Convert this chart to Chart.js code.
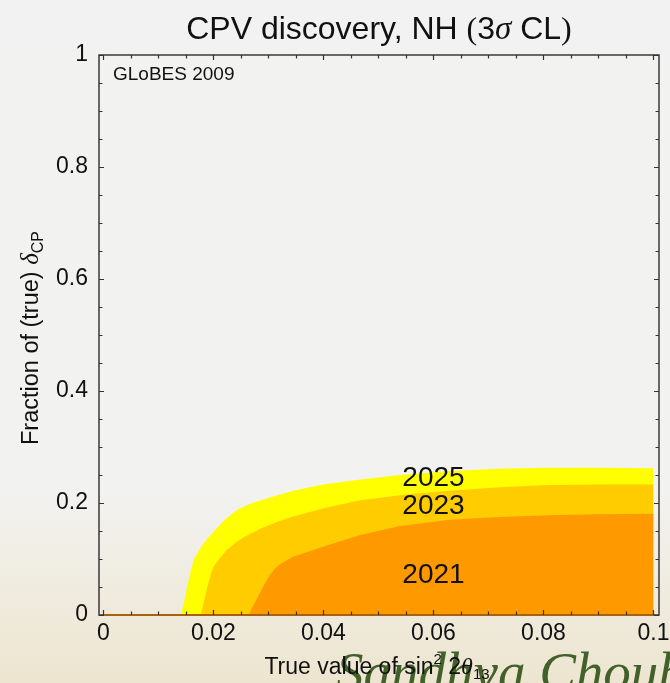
<!DOCTYPE html>
<html>
<head>
<meta charset="utf-8">
<title>CPV discovery, NH (3σ CL)</title>
<script src="https://cdn.jsdelivr.net/npm/chart.js@4.4.1/dist/chart.umd.min.js"></script>
<style>
  html, body { margin: 0; padding: 0; background: #f2f2f2; }
  canvas { display: block; }
</style>
</head>
<body>
<canvas id="cpv" width="670" height="683"></canvas>
<script>
// Fraction of true delta_CP for which CP violation is discovered at 3 sigma,
// as a function of the true sin^2 2theta13 (normal hierarchy), by year.
const years = ['2025', '2023', '2021'];
const band2025 = [[0.0141,0],[0.0147,0.025],[0.0152,0.05],[0.0158,0.075],[0.0164,0.098],[0.0173,0.114],
  [0.0182,0.128],[0.0194,0.142],[0.0208,0.157],[0.0224,0.173],[0.0245,0.189],[0.0270,0.200],[0.0300,0.209],
  [0.0345,0.222],[0.0400,0.233],[0.0460,0.241],[0.0540,0.250],[0.0630,0.257],[0.0720,0.261],[0.0810,0.263],
  [0.0900,0.263],[0.1000,0.262]];
const band2023 = [[0.0177,0],[0.0183,0.025],[0.0189,0.05],[0.0195,0.072],[0.0200,0.086],[0.0212,0.102],
  [0.0224,0.116],[0.0240,0.129],[0.0255,0.139],[0.0285,0.154],[0.0315,0.166],[0.0345,0.176],[0.0406,0.192],
  [0.0467,0.205],[0.0550,0.215],[0.0630,0.222],[0.0720,0.228],[0.0810,0.232],[0.0900,0.233],[0.1000,0.233]];
const band2021 = [[0.0264,0],[0.0270,0.012],[0.0277,0.025],[0.0285,0.040],[0.0294,0.057],[0.0303,0.072],
  [0.0312,0.083],[0.0323,0.092],[0.0345,0.104],[0.0375,0.114],[0.0406,0.124],[0.0467,0.143],[0.0539,0.159],
  [0.0630,0.170],[0.0720,0.175],[0.0810,0.178],[0.0900,0.180],[0.1000,0.181]];
const zeroLevel = [[0,0],[0.1,0]];

const xTickValues = [0, 0.02, 0.04, 0.06, 0.08, 0.1];
const xTickLabels = ['0', '0.02', '0.04', '0.06', '0.08', '0.1'];
const yTickValues = [0, 0.2, 0.4, 0.6, 0.8, 1];
const yTickLabels = ['0', '0.2', '0.4', '0.6', '0.8', '1'];

// where each year's name sits inside its band (x centre, text baseline), in data units
const bandLabelX = 0.06;
const bandLabelY = [0.2298, 0.1798, 0.0571];

const bandColors = { '2025': '#ffff00', '2023': '#ffcc00', '2021': '#ff9900' };
const SANS = '"Liberation Sans", Arial, Helvetica, sans-serif';
const SERIF = '"Liberation Serif", "Times New Roman", serif';

const toPoints = arr => arr.map(([x, y]) => ({ x, y }));
const bands = { '2025': band2025, '2023': band2023, '2021': band2021 };

function majorLabel(values, labels, v) {
  for (let i = 0; i < values.length; i++) {
    if (Math.abs(values[i] - v) < 1e-9) return labels[i];
  }
  return '';
}

// draw a run of differently styled text pieces on one baseline
function drawRuns(ctx, runs, x, y, align) {
  let total = 0;
  runs.forEach(r => { ctx.font = r.font; total += ctx.measureText(r.text).width; });
  let cx = align === 'center' ? x - total / 2 : x;
  ctx.textAlign = 'left';
  ctx.textBaseline = 'alphabetic';
  runs.forEach(r => {
    ctx.font = r.font;
    ctx.fillText(r.text, cx, y + (r.dy || 0));
    cx += ctx.measureText(r.text).width;
  });
}

const decor = {
  id: 'decor',
  beforeDraw(chart) {
    const { ctx, width, height } = chart;
    ctx.save();
    const g = ctx.createLinearGradient(0, 0, 0, height);
    g.addColorStop(0, '#f2f2f2');
    g.addColorStop(0.72, '#f2f2f0');
    g.addColorStop(1, '#ede5cf');
    ctx.fillStyle = g;
    ctx.fillRect(0, 0, width, height);
    ctx.font = 'italic 55px ' + SERIF;
    ctx.fillStyle = '#42602a';
    ctx.textAlign = 'left';
    ctx.textBaseline = 'alphabetic';
    ctx.fillText('Sandhya Choubey', 336, 690);
    ctx.restore();
  },
  beforeDatasetsDraw(chart) {
    const { ctx, chartArea: a } = chart;
    ctx.save();
    ctx.strokeStyle = '#3a3a3a';
    ctx.lineWidth = 1.5;
    ctx.strokeRect(a.left, a.top, a.right - a.left, a.bottom - a.top);
    ctx.restore();
  },
  afterDatasetsDraw(chart) {
    const { ctx, chartArea: a, scales } = chart;
    const xs = scales.x, ys = scales.y;
    ctx.save();
    ctx.strokeStyle = '#333333';
    ctx.lineWidth = 1.2;
    ctx.beginPath();
    xs.ticks.forEach(t => {
      const px = Math.round(xs.getPixelForValue(t.value)) + 0.5;
      const len = t.label ? 5 : 3.5;
      ctx.moveTo(px, a.bottom); ctx.lineTo(px, a.bottom - len);
      ctx.moveTo(px, a.top); ctx.lineTo(px, a.top + len);
    });
    ys.ticks.forEach(t => {
      const py = Math.round(ys.getPixelForValue(t.value)) + 0.5;
      const len = t.label ? 5 : 3.5;
      ctx.moveTo(a.left, py); ctx.lineTo(a.left + len, py);
      ctx.moveTo(a.right, py); ctx.lineTo(a.right - len, py);
    });
    ctx.stroke();

    // year names inside the bands
    ctx.fillStyle = '#111111';
    ctx.font = '28px ' + SANS;
    ctx.textAlign = 'center';
    ctx.textBaseline = 'alphabetic';
    years.forEach((yr, i) => {
      ctx.fillText(yr, xs.getPixelForValue(bandLabelX), ys.getPixelForValue(bandLabelY[i]));
    });

    ctx.font = '19px ' + SANS;
    ctx.textAlign = 'left';
    ctx.fillText('GLoBES 2009', a.left + 14, a.top + 25);
    ctx.restore();
  },
  afterDraw(chart) {
    const { ctx, chartArea: a } = chart;
    const cx = (a.left + a.right) / 2;
    ctx.save();
    ctx.fillStyle = '#111111';
    // title
    drawRuns(ctx, [
      { text: 'CPV discovery, NH ', font: '32px ' + SANS },
      { text: '(', font: '32px ' + SERIF },
      { text: '3', font: '32px ' + SANS },
      { text: 'σ', font: 'italic 33px ' + SERIF },
      { text: ' CL', font: '32px ' + SANS },
      { text: ')', font: '32px ' + SERIF }
    ], cx, 39, 'center');
    // x axis title
    drawRuns(ctx, [
      { text: 'True value of sin', font: '23px ' + SANS },
      { text: '2', font: '15px ' + SANS, dy: -10 },
      { text: ' 2', font: '23px ' + SANS },
      { text: 'θ', font: 'italic 24px ' + SERIF },
      { text: '13', font: '15px ' + SANS, dy: 5 }
    ], cx - 2, 674, 'center');
    // y axis title
    ctx.translate(38, 338);
    ctx.rotate(-Math.PI / 2);
    drawRuns(ctx, [
      { text: 'Fraction of (true) ', font: '23.5px ' + SANS },
      { text: 'δ', font: 'italic 25px ' + SERIF },
      { text: 'CP', font: '16px ' + SANS, dy: 5 }
    ], 0, 0, 'center');
    ctx.restore();
  }
};

const datasets = [
  {
    label: 'zero',
    data: toPoints(zeroLevel),
    borderColor: '#a8620c',
    borderWidth: 2,
    pointRadius: 0,
    fill: false,
    clip: 4
  }
].concat(['2021', '2023', '2025'].map(yr => ({
  label: yr,
  data: toPoints(bands[yr]),
  borderWidth: 0,
  borderColor: bandColors[yr],
  backgroundColor: bandColors[yr],
  pointRadius: 0,
  tension: 0,
  fill: 'origin'
})));

new Chart(document.getElementById('cpv'), {
  type: 'line',
  data: { datasets },
  plugins: [decor],
  options: {
    responsive: false,
    animation: false,
    devicePixelRatio: 1,
    events: [],
    layout: { padding: { top: 55, right: 11, left: 0, bottom: 0 } },
    plugins: { legend: { display: false }, tooltip: { enabled: false }, title: { display: false } },
    scales: {
      x: {
        type: 'linear',
        min: -0.0008,
        max: 0.101,
        grid: { display: false, drawTicks: false },
        border: { display: false },
        ticks: {
          stepSize: 0.005,
          includeBounds: false,
          autoSkip: false,
          maxRotation: 0,
          minRotation: 0,
          padding: 5,
          color: '#111111',
          font: { family: SANS, size: 23 },
          callback: v => majorLabel(xTickValues, xTickLabels, v)
        },
        afterFit(s) { s.height = 68; s.paddingLeft = 0; s.paddingRight = 0; }
      },
      y: {
        type: 'linear',
        min: 0,
        max: 1,
        grid: { display: false, drawTicks: false },
        border: { display: false },
        ticks: {
          stepSize: 0.05,
          autoSkip: false,
          padding: 11,
          color: '#111111',
          font: { family: SANS, size: 23 },
          callback: v => majorLabel(yTickValues, yTickLabels, v)
        },
        afterFit(s) { s.width = 99; s.paddingTop = 0; s.paddingBottom = 0; }
      }
    }
  }
});
</script>
</body>
</html>
